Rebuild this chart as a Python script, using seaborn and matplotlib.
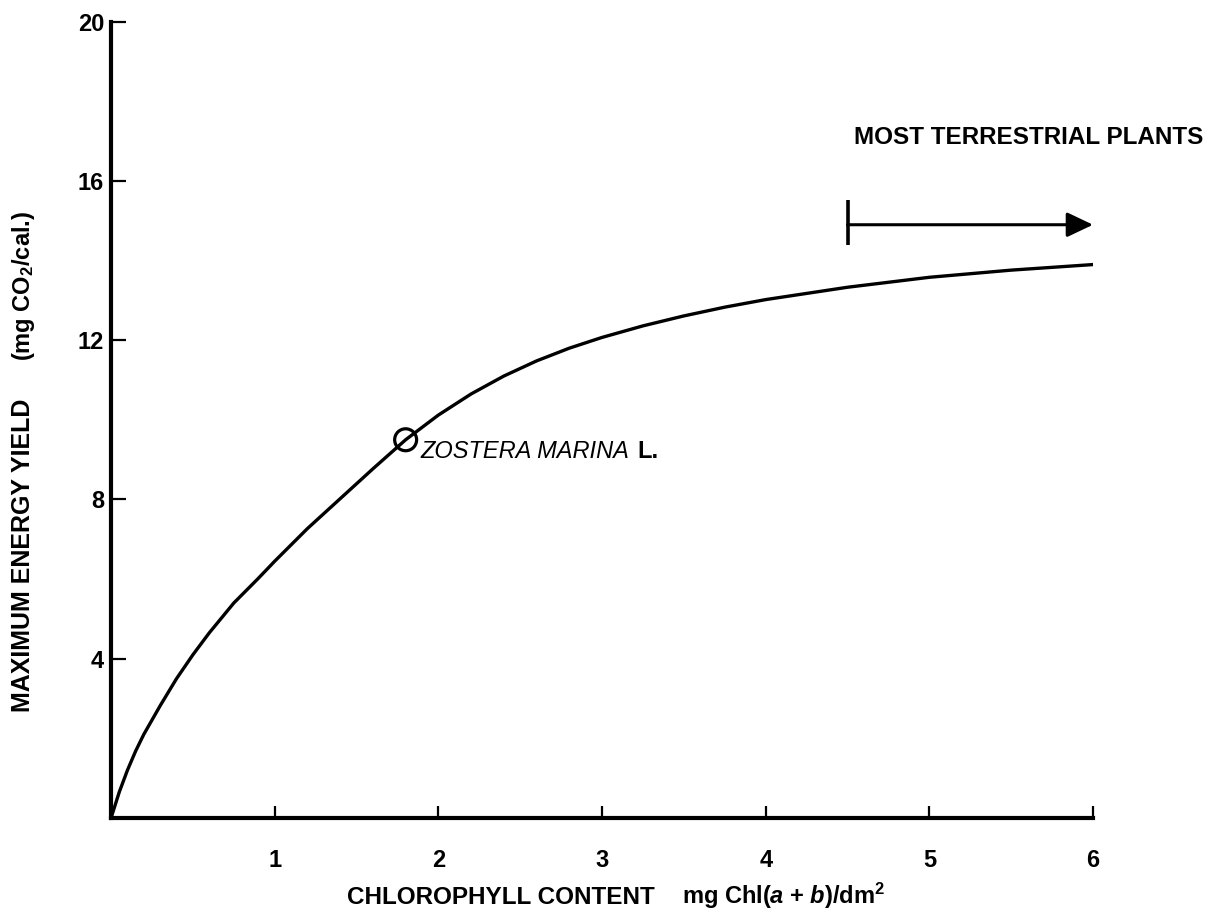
import numpy as np
import pandas as pd
import matplotlib
matplotlib.use("Agg")
import matplotlib.pyplot as plt
import seaborn as sns

# values
chlorophyll = [0, 0.05, 0.1, 0.15, 0.2, 0.3, 0.4, 0.5, 0.6, 0.75, 0.9, 1.0,
               1.2, 1.4, 1.6, 1.8, 2.0, 2.2, 2.4, 2.6, 2.8, 3.0, 3.25, 3.5,
               3.75, 4.0, 4.5, 5.0, 5.5, 6.0]
energy_yield = [0, 0.65, 1.2, 1.68, 2.1, 2.82, 3.5, 4.1, 4.65, 5.4, 6.02, 6.45,
                7.27, 8.02, 8.77, 9.5, 10.12, 10.65, 11.1, 11.48, 11.8, 12.07, 12.36, 12.61,
                12.83, 13.02, 13.33, 13.58, 13.76, 13.9]

zostera_chl = [1.8]
zostera_yield = [9.5]
zostera_label = "ZOSTERA MARINA"

terrestrial_range = [4.5, 6.0]
terrestrial_level = 14.9
terrestrial_label = "MOST TERRESTRIAL PLANTS"

x_ticks = [1, 2, 3, 4, 5, 6]
y_ticks = [4, 8, 12, 16, 20]

sns.set_style("white")
plt.rcParams['font.family'] = ['Liberation Sans', 'DejaVu Sans']
plt.rcParams['font.weight'] = 'bold'
plt.rcParams['text.color'] = 'black'
plt.rcParams['mathtext.fontset'] = 'custom'
plt.rcParams['mathtext.rm'] = 'Liberation Sans:bold'
plt.rcParams['mathtext.it'] = 'Liberation Sans:italic'

fig, ax = plt.subplots(figsize=(12.15, 9.18), dpi=100)
fig.subplots_adjust(left=0.0914, right=0.8996, bottom=0.1089, top=0.9764)

df = pd.DataFrame({'chl': chlorophyll, 'yield': energy_yield})
sns.lineplot(data=df, x='chl', y='yield', ax=ax, color='black', lw=2.4,
             solid_joinstyle='round', solid_capstyle='round')

zdf = pd.DataFrame({'chl': zostera_chl, 'yield': zostera_yield})
sns.scatterplot(data=zdf, x='chl', y='yield', ax=ax, marker='o', s=250,
                facecolor='none', edgecolor='black', linewidth=2.3, zorder=5)

ax.set_xlim(0, 6)
ax.set_ylim(0, 20)
ax.set_xticks(x_ticks)
ax.set_yticks(y_ticks)
ax.set_xlabel("")
ax.set_ylabel("")

sns.despine(ax=ax)
for side in ['left', 'bottom']:
    ax.spines[side].set_linewidth(3)
    ax.spines[side].set_color('black')

ax.tick_params(axis='y', left=True, direction='in', length=11, width=1.6,
               pad=5, labelsize=17, colors='black')
ax.tick_params(axis='x', bottom=True, direction='in', length=9, width=1.6,
               pad=22, labelsize=17, colors='black')

# zostera annotation
t = ax.text(zostera_chl[0] + 0.09, zostera_yield[0] - 0.3, zostera_label,
            fontsize=17, style='italic', fontweight='normal',
            ha='left', va='center')
ax.annotate("L.", xy=(1, 0.5), xycoords=t, xytext=(6, 0),
            textcoords='offset points', fontsize=17, fontweight='bold',
            ha='left', va='center')

# terrestrial plants range arrow
ax.annotate("", xy=(terrestrial_range[1], terrestrial_level),
            xytext=(terrestrial_range[0], terrestrial_level),
            arrowprops=dict(arrowstyle='-|>,head_length=0.8,head_width=0.38',
                            color='black', lw=2.2, shrinkA=0, shrinkB=0,
                            mutation_scale=20),
            annotation_clip=False)
ax.vlines(terrestrial_range[0], terrestrial_level - 0.5,
          terrestrial_level + 0.62, color='black', lw=2.6)
ax.text(terrestrial_range[0] + 0.04, 17.1, terrestrial_label, fontsize=17.5,
        ha='left', va='center', clip_on=False)

# axis titles
fig.text(0.019, 0.395, "MAXIMUM ENERGY YIELD", rotation=90, fontsize=18,
         ha='center', va='center')
fig.text(0.019, 0.688, "(mg CO$_2$/cal.)", rotation=90, fontsize=17,
         ha='center', va='center')
fig.text(0.412, 0.022, "CHLOROPHYLL CONTENT", fontsize=17.5,
         ha='center', va='center')
fig.text(0.645, 0.024, "mg Chl($a$ + $b$)/dm$^2$", fontsize=17,
         ha='center', va='center')

fig.savefig("out.png", dpi=100)
